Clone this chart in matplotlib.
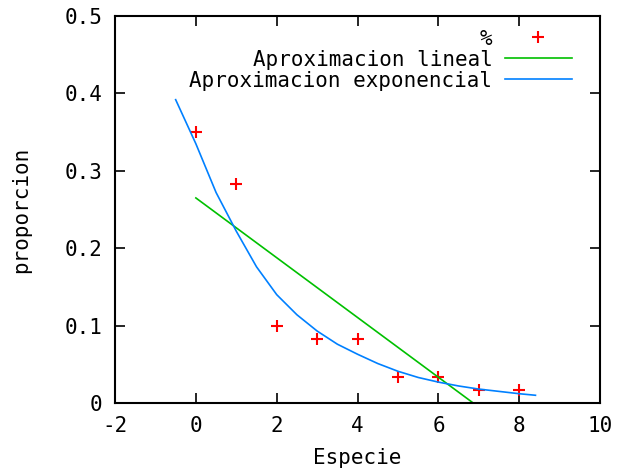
import matplotlib
matplotlib.use("Agg")
import matplotlib.pyplot as plt
from matplotlib.ticker import FuncFormatter

# Observed proportions per species
especie = [0, 1, 2, 3, 4, 5, 6, 7, 8]
proporcion = [0.350, 0.283, 0.100, 0.083, 0.083, 0.033, 0.033, 0.017, 0.017]

# Linear approximation (end points)
lin_x = [0.0, 6.86]
lin_y = [0.265, 0.0]

# Exponential approximation
exp_x = [-0.5, 0, 0.5, 1, 1.5, 2, 2.5, 3, 3.5, 4, 4.5, 5, 5.5, 6, 6.5, 7, 7.5, 8, 8.4]
exp_y = [0.392, 0.335, 0.272, 0.222, 0.176, 0.140, 0.114, 0.093, 0.076, 0.063,
         0.051, 0.041, 0.033, 0.027, 0.022, 0.018, 0.015, 0.012, 0.010]

plt.rcParams["font.family"] = ["DejaVu Sans Mono"]
fs = 15

fig = plt.figure(figsize=(6.2, 4.69), dpi=100)
ax = fig.add_axes([0.1855, 0.1407, 0.7825, 0.825])

ax.plot(especie, proporcion, linestyle="none", marker="+", color="#ff0000",
        markersize=8, markeredgewidth=1.5, label="%")
ax.plot(lin_x, lin_y, color="#00c000", linewidth=1.2, label="Aproximacion lineal")
ax.plot(exp_x, exp_y, color="#0080ff", linewidth=1.2, label="Aproximacion exponencial")

ax.set_xlim(-2, 10)
ax.set_ylim(0, 0.5)
ax.set_xticks([-2, 0, 2, 4, 6, 8, 10])
ax.set_yticks([0, 0.1, 0.2, 0.3, 0.4, 0.5])
ax.xaxis.set_major_formatter(FuncFormatter(lambda v, p: "%g" % v))
ax.yaxis.set_major_formatter(FuncFormatter(lambda v, p: "%g" % v))
ax.tick_params(direction="in", length=7, width=1.2, top=True, right=True,
               labelsize=fs, pad=9)
for s in ax.spines.values():
    s.set_linewidth(1.5)

ax.set_xlabel("Especie", fontsize=fs, labelpad=9)
ax.set_ylabel("proporcion", fontsize=fs, labelpad=24)

ax.legend(loc="upper right", bbox_to_anchor=(0.967, 1.0), frameon=False,
          markerfirst=False, fontsize=fs, handlelength=3.2, borderaxespad=0.2,
          labelspacing=0.05, handletextpad=0.6)

fig.savefig("out.png", dpi=100)
